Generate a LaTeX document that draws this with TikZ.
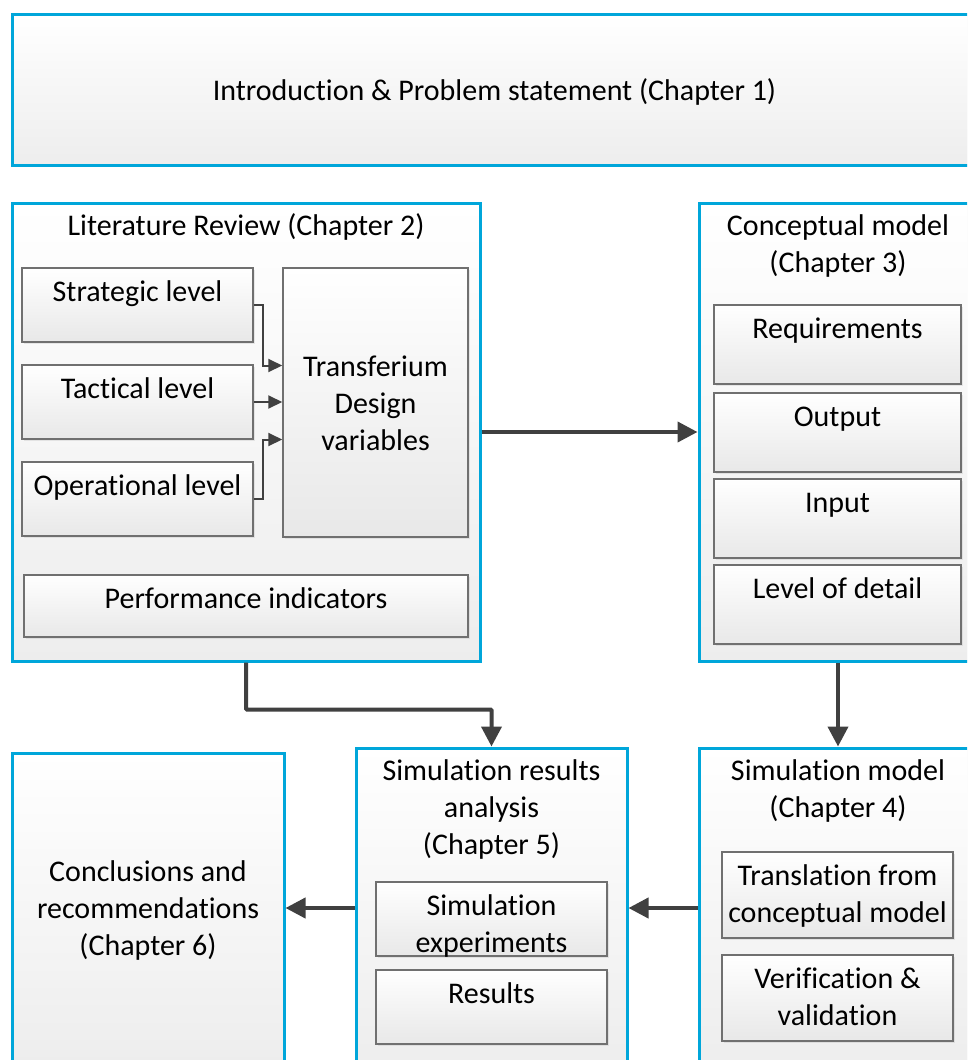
\documentclass[tikz,border=0pt]{standalone}
\usepackage{fontspec}
\setmainfont{Carlito}[Ligatures={NoCommon,NoRare}]
\usetikzlibrary{arrows.meta,shadows}
\definecolor{chapblue}{RGB}{0,166,218}
\definecolor{partgray}{RGB}{112,112,112}
\definecolor{arrowgray}{RGB}{64,64,64}
\begin{document}
\begin{tikzpicture}[x=1pt,y=-1pt]
	\def\gap{8}
	\tikzset{chap/.style={draw=chapblue,line width=3pt,top color=white,bottom color=black!7,drop shadow={shadow xshift=2pt,shadow yshift=-2pt,opacity=.25,fill=black!40},inner sep=0pt},
		part/.style={draw=partgray,line width=1.5pt,top color=white,bottom color=black!9,drop shadow={shadow xshift=2pt,shadow yshift=-2pt,opacity=.2,fill=black!40},inner sep=0pt},
		txt/.style={font=\fontsize{30}{37}\selectfont,align=center,anchor=north,inner sep=0pt,execute at begin node=\strut},
		txtm/.style={txt,yshift=-5pt},
		flow/.style={draw=arrowgray,line width=4pt,-{Triangle[length=20pt,width=20pt]}},
		feed/.style={draw=arrowgray,line width=2pt,-{Triangle[length=14pt,width=13pt]}}}
	\useasboundingbox(0,0)rectangle(967,1060);
	\clip(0,0)rectangle(967,1060);
	\fill[white](0,0)rectangle(967,1060);
	%%Chapter boxes
	\node[chap,minimum width=965,minimum height=151](intro)at(494.5,89.5){};
	\node[chap,minimum width=468,minimum height=458](lit)at(246,432){};
	\node[chap,minimum width=278,minimum height=458](concept)at(838,432){};
	\node[chap,minimum width=272,minimum height=310](concl)at(148,908){};
	\node[chap,minimum width=271,minimum height=320](simres)at(491.5,908){};
	\node[chap,minimum width=278,minimum height=320](simmod)at(838,908){};
	%%Inner boxes
	\node[part,minimum width=231,minimum height=74](strat)at(137.5,305){};
	\node[part,minimum width=231,minimum height=74](tact)at(137.5,402){};
	\node[part,minimum width=231,minimum height=74](oper)at(137.5,499){};
	\node[part,minimum width=185,minimum height=269](trans)at(375.5,402.5){};
	\node[part,minimum width=444,minimum height=62](perf)at(246,606){};
	\node[part,minimum width=247,minimum height=79](req)at(837.5,344.5){};
	\node[part,minimum width=247,minimum height=79](out)at(837.5,432.5){};
	\node[part,minimum width=247,minimum height=79](inp)at(837.5,518.5){};
	\node[part,minimum width=247,minimum height=79](lod)at(837.5,604.5){};
	\node[part,minimum width=231,minimum height=74](simexp)at(491.5,919){};
	\node[part,minimum width=231,minimum height=74](res)at(491.5,1007){};
	\node[part,minimum width=231,minimum height=86](transl)at(837.5,895){};
	\node[part,minimum width=231,minimum height=86](verif)at(837.5,998){};
	%%Texts
	\node[txt,anchor=center](introT)at([yshift=-4pt]intro.center){Introduction \& Problem statement (Chapter 1)};
	\path(lit.north)++(0,\gap)node[txt](litT){Literature Review (Chapter 2)}
		(concept.north)++(0,\gap)node[txtm](conceptT){Conceptual model\\(Chapter 3)}
		(simres.north)++(0,\gap)node[txtm](simresT){Simulation results\\analysis\\(Chapter 5)}
		(simmod.north)++(0,\gap)node[txtm](simmodT){Simulation model\\(Chapter 4)}
		(concl.center)++(0,-53)node[txtm](conclT){Conclusions and\\recommendations\\(Chapter 6)}
		(trans.center)++(0,-51.5)node[txtm](transT){Transferium\\Design\\variables};
	\path(strat.north)++(0,\gap)node[txt](stratT){Strategic level}
		(tact.north)++(0,\gap)node[txt](tactT){Tactical level}
		(oper.north)++(0,\gap)node[txt](operT){Operational level}
		(perf.north)++(0,\gap)node[txt](perfT){Performance indicators}
		(req.north)++(0,\gap)node[txt](reqT){Requirements}
		(out.north)++(0,\gap)node[txt](outT){Output}
		(inp.north)++(0,\gap)node[txt](inpT){Input}
		(lod.north)++(0,\gap)node[txt](lodT){Level of detail}
		(simexp.north)++(0,\gap)node[txtm](simexpT){Simulation\\experiments}
		(res.north)++(0,\gap)node[txt](resT){Results}
		(transl.north)++(0,\gap)node[txtm](translT){Translation from\\conceptual model}
		(verif.north)++(0,\gap)node[txtm](verifT){Verification \&\\validation};
	%%Arrows
	\foreach \x/\y in {lit/concept,concept/simmod,simmod/simres,simres/concl}
	\draw[flow](\x)--(\y);
	\draw[flow,rounded corners=1pt](lit.south)--++(0,47)-|(simres.north);
	\draw[feed](strat.east)--++(9,0)|-([yshift=37pt]trans.west);
	\draw[feed](tact.east)--(trans.west|-tact.east);
	\draw[feed](oper.east)--++(9,0)|-([yshift=-37pt]trans.west);
\end{tikzpicture}
\end{document}
